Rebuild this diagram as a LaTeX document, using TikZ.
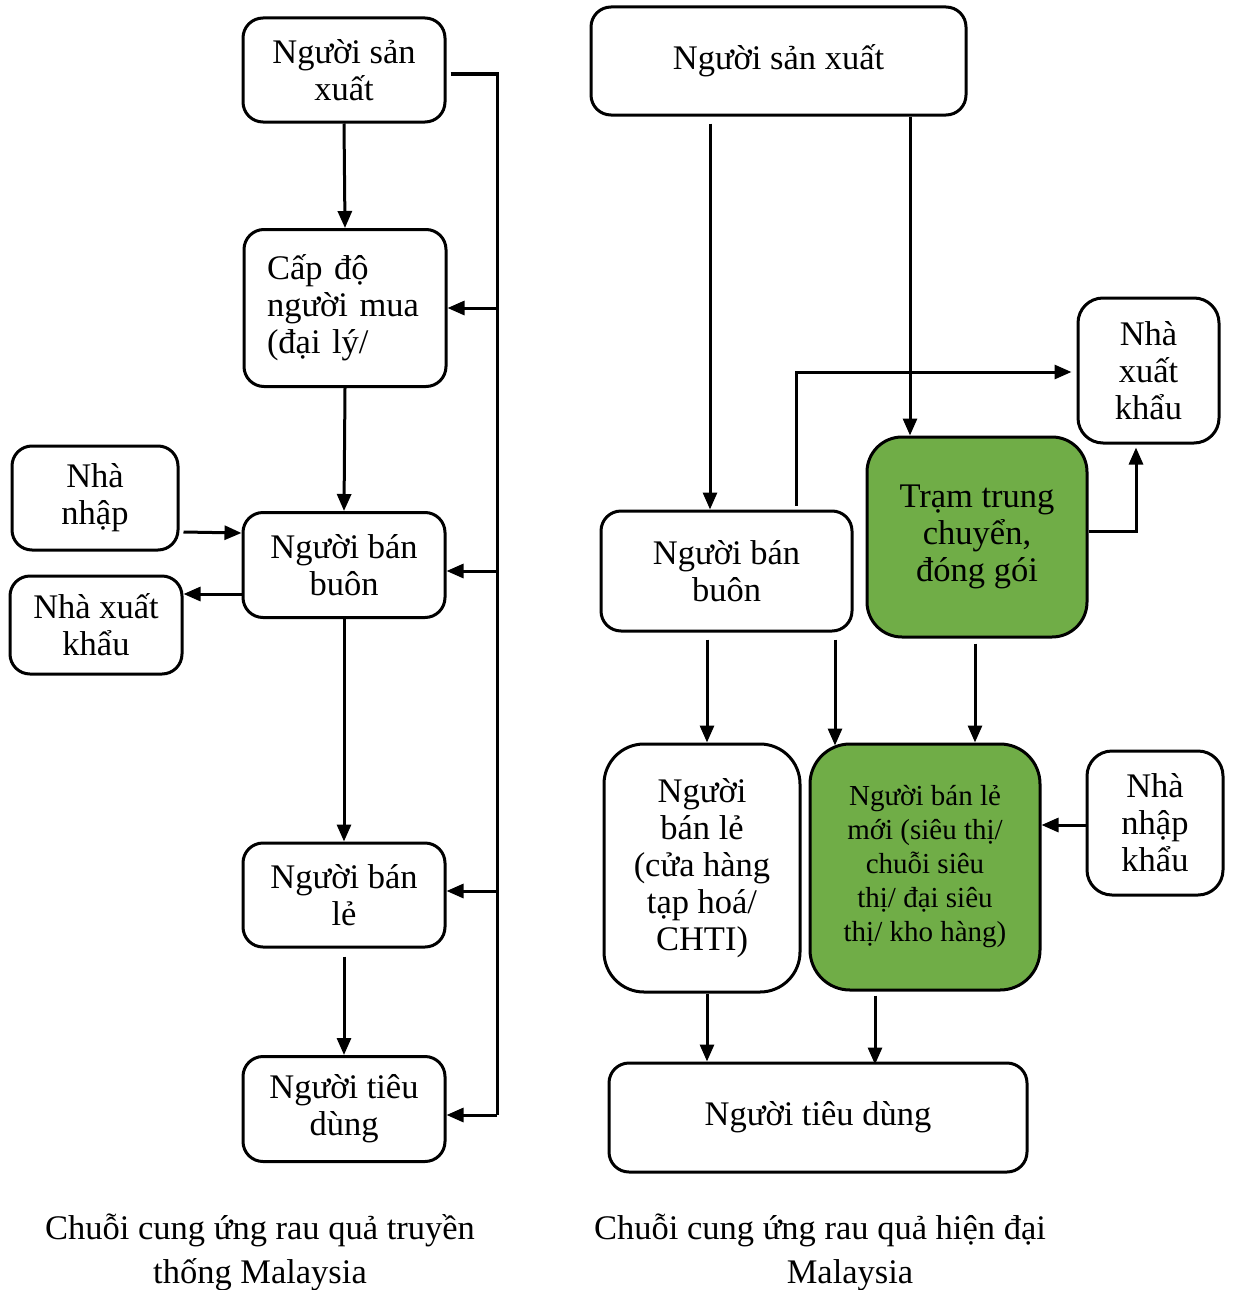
\documentclass[tikz,border=0pt]{standalone}
\usepackage{fontspec}
\setmainfont{Liberation Serif}
\usetikzlibrary{arrows.meta,calc}
\definecolor{boxgreen}{HTML}{70AD47}
\begin{document}
\begin{tikzpicture}[x=1pt,y=-1pt,
  box/.style={draw, line width=3pt, rounded corners=20pt, align=center,
    font=\fontsize{34.5}{37}\selectfont, inner sep=0pt},
  gbox/.style={box, fill=boxgreen},
  arr/.style={line width=3pt, -{Triangle[length=17pt,width=14pt]}},
  ln/.style={line width=3pt},
  captxt/.style={align=center, font=\fontsize{34.5}{44}\selectfont, inner sep=0pt}]
\useasboundingbox (0,0) rectangle (1232,1290);
% left chain
\node[box, minimum width=202pt, minimum height=104pt] (A1) at (344,70) {Người sản\\xuất};
\node[box, minimum width=202pt, minimum height=157pt, text width=156pt, align=left] (A2) at (345,308) {Cấp độ\\người mua\\(đại lý/};
\node[box, minimum width=202pt, minimum height=105pt] (A3) at (344,565) {Người bán\\buôn};
\node[box, minimum width=202pt, minimum height=104pt] (A4) at (344,895) {Người bán\\lẻ};
\node[box, minimum width=202pt, minimum height=105pt] (A5) at (344,1109) {Người tiêu\\dùng};
\node[box, minimum width=166pt, minimum height=104pt] (NN) at (95,498) {Nhà\\nhập};
\node[box, minimum width=172pt, minimum height=98pt] (NX) at (96,625) {Nhà xuất\\khẩu};
\draw[arr] (A1.south) -- (A2.north);
\draw[arr] (A2.south) -- (A3.north);
\draw[arr] (A3.south) -- (A4.north);
\draw[arr] ([yshift=-8pt]A4.south) -- (A5.north);
\coordinate (bustop) at (497,74);
\draw[ln] ([xshift=4pt,yshift=-4pt]A1.east) -- (bustop) -- (bustop |- 0,1115) coordinate (busbot);
\draw[arr] (bustop |- A2.east) -- (A2.east);
\draw[arr] (bustop |- 0,571) -- ([yshift=-6pt]A3.east);
\draw[arr] (bustop |- 0,891) -- ([yshift=4pt]A4.east);
\draw[arr] (busbot) -- ([yshift=-6pt]A5.east);
\draw[arr] ([xshift=4pt,yshift=-34pt]NN.east) -- ([yshift=32pt]A3.west);
\draw[arr] ([yshift=-29pt]A3.west) -- ([yshift=31pt]NX.east);
% right chain
\node[box, minimum width=375pt, minimum height=108pt] (B1) at (778.5,61) {Người sản xuất};
\node[box, minimum width=251pt, minimum height=120pt] (B2) at (726.5,571) {Người bán\\buôn};
\node[gbox, rounded corners=35pt, minimum width=220pt, minimum height=200pt] (B3) at (977,537) {Trạm trung\\chuyển,\\đóng gói};
\node[box, rounded corners=25pt, minimum width=141pt, minimum height=145pt] (B4) at (1148.5,370.5) {Nhà\\xuất\\khẩu};
\node[box, rounded corners=40pt, minimum width=196pt, minimum height=248pt] (B5) at (702,868) {Người\\bán lẻ\\(cửa hàng\\tạp hoá/\\CHTI)};
\node[gbox, rounded corners=40pt, minimum width=230pt, minimum height=246pt, font=\fontsize{29}{34}\selectfont] (B6) at (925,867) {Người bán lẻ\\mới (siêu thị/\\chuỗi siêu\\thị/ đại siêu\\thị/ kho hàng)};
\node[box, rounded corners=25pt, minimum width=136pt, minimum height=144pt] (B7) at (1155,823) {Nhà\\nhập\\khẩu};
\node[box, minimum width=418pt, minimum height=109pt] (B8) at (818,1117.5) {Người tiêu dùng};
\draw[arr] ([xshift=-68.5pt,yshift=-7pt]B1.south) coordinate (s1) -- (s1 |- B2.north);
\draw[arr] ([xshift=131.5pt]B1.south) coordinate (s2) -- (s2 |- B3.north);
\draw[arr] ([xshift=69.5pt,yshift=4pt]B2.north) coordinate (s3) -- (s3 |- 0,372) -- ([xshift=-5pt,yshift=-1.5pt]B4.west);
\coordinate (e4) at ([xshift=-12.5pt,yshift=-3pt]B4.south);
\draw[arr] ([yshift=6pt]B3.east) coordinate (s4) -- (s4 -| e4) -- (e4);
\draw[arr] ([xshift=-19.5pt,yshift=-7pt]B2.south) coordinate (s5) -- (s5 |- B5.north);
\draw[arr] ([xshift=108.5pt,yshift=-7pt]B2.south) coordinate (s6) -- ([yshift=-3pt]s6 |- B6.north);
\draw[arr] ([xshift=-2pt,yshift=-5pt]B3.south) coordinate (s7) -- (s7 |- B6.north);
\draw[arr] ([yshift=-2pt]B7.west) coordinate (s8) -- (s8 -| B6.east);
\draw[arr] ([xshift=5pt]B5.south) coordinate (s9) -- (s9 |- B8.north);
\draw[arr] ([xshift=-50pt,yshift=-4pt]B6.south) coordinate (s10) -- ([yshift=-3pt]s10 |- B8.north);
% captions
\node[captxt] (C1) at (260,1252) {Chuỗi cung ứng rau quả truyền\\thống Malaysia};
\node[captxt] (C2) at (820,1252) {Chuỗi cung ứng rau quả hiện đại\\\hspace*{60pt}Malaysia};
\end{tikzpicture}
\end{document}
